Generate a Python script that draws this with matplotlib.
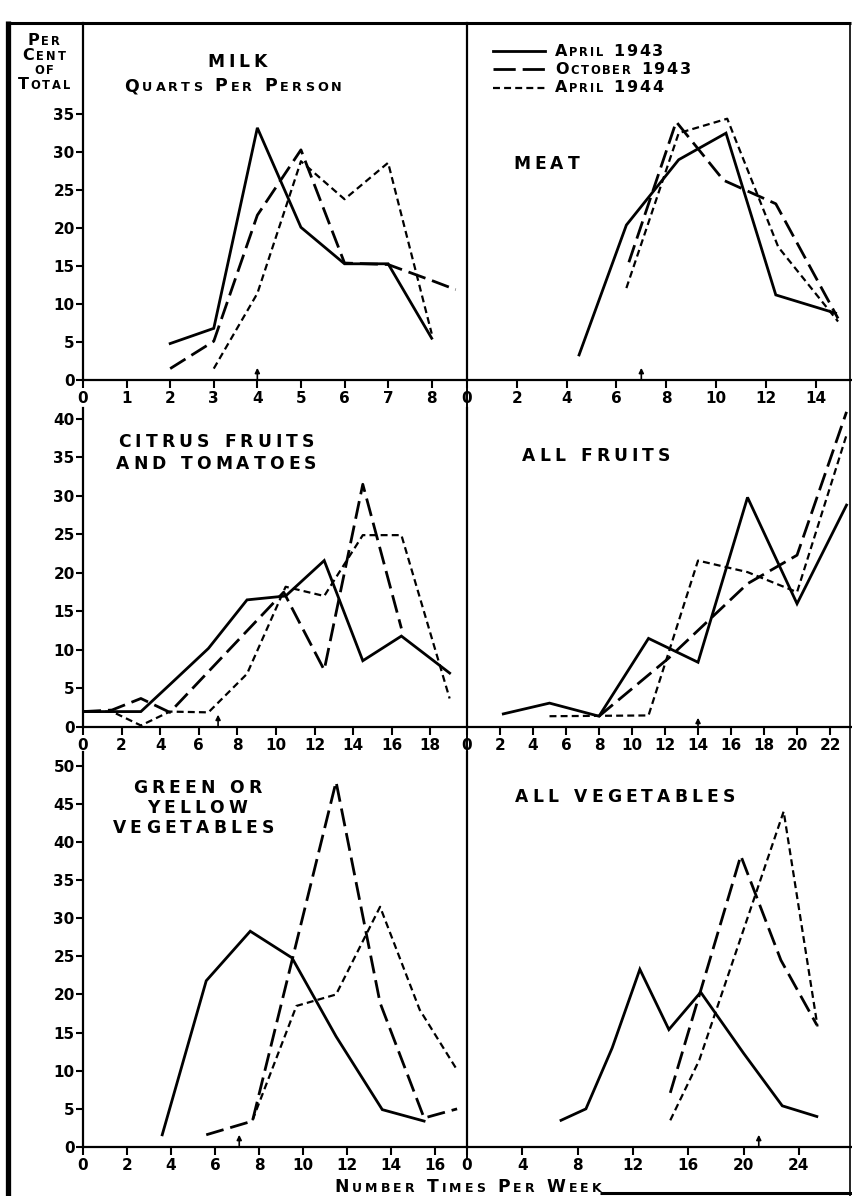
import matplotlib
matplotlib.use('Agg')
import matplotlib.pyplot as plt
from matplotlib.lines import Line2D
from matplotlib.textpath import TextToPath
from matplotlib.font_manager import FontProperties

# ---------------- data ----------------
series_names = ["April 1943", "October 1943", "April 1944"]

milk_x_apr43 = [2, 3, 4, 5, 6, 7, 8]
milk_apr43 = [4.8, 6.8, 33.2, 20.1, 15.3, 15.3, 5.5]
milk_x_oct43 = [2, 3, 4, 5, 6, 7, 8, 8.55]
milk_oct43 = [1.5, 5.1, 21.7, 30.3, 15.4, 15.2, 13.1, 11.9]
milk_x_apr44 = [3, 4, 5, 6, 7, 8]
milk_apr44 = [1.5, 11.4, 28.8, 23.8, 28.6, 6.1]

meat_x_apr43 = [4.5, 6.4, 8.5, 10.4, 12.4, 14.8]
meat_apr43 = [3.3, 20.4, 29.0, 32.5, 11.2, 8.8]
meat_x_oct43 = [6.5, 8.4, 10.3, 12.4, 14.9]
meat_oct43 = [15.5, 34.0, 26.3, 23.2, 8.1]
meat_x_apr44 = [6.4, 8.5, 10.45, 12.5, 14.9]
meat_apr44 = [12.1, 32.5, 34.4, 17.5, 7.7]

citrus_x_apr43 = [0, 1.5, 3, 4.5, 6.5, 8.5, 10.5, 12.5, 14.5, 16.5, 19]
citrus_apr43 = [2, 2, 2, 5.5, 10.2, 16.5, 17, 21.6, 8.6, 11.8, 7]
citrus_x_oct43 = [0, 1.5, 3, 4.5, 10.4, 12.5, 14.5, 16.5]
citrus_oct43 = [2, 2.2, 3.7, 1.9, 17.5, 7.4, 31.5, 12.8]
citrus_x_apr44 = [0, 1.5, 3, 4.5, 6.5, 8.5, 10.5, 12.5, 14.5, 16.5, 19]
citrus_apr44 = [2, 2, 0.2, 2, 1.9, 6.9, 18.2, 17, 24.9, 24.9, 3.7]

fruits_x_apr43 = [2.2, 5, 8, 11, 14, 17, 20, 23]
fruits_apr43 = [1.7, 3.1, 1.4, 11.5, 8.4, 29.8, 16.0, 28.8]
fruits_x_oct43 = [8, 12.2, 17, 20, 23]
fruits_oct43 = [1.4, 8.9, 18.6, 22.3, 40.9]
fruits_x_apr44 = [5, 11, 14, 17, 20, 23]
fruits_apr44 = [1.4, 1.5, 21.6, 20.1, 17.5, 37.9]

green_x_apr43 = [3.6, 5.6, 7.6, 9.5, 11.5, 13.6, 15.5]
green_apr43 = [1.6, 21.8, 28.3, 24.8, 14.5, 4.9, 3.4]
green_x_oct43 = [5.6, 7.7, 11.5, 13.5, 15.5, 17]
green_oct43 = [1.6, 3.4, 47.9, 18.9, 3.8, 5.0]
green_x_apr44 = [7.7, 9.7, 11.5, 13.5, 15.3, 17]
green_apr44 = [3.5, 18.5, 20, 31.5, 18, 10.1]

veg_x_apr43 = [6.8, 8.6, 10.5, 12.5, 14.6, 16.9, 20, 22.8, 25.3]
veg_apr43 = [3.5, 5.0, 13, 23.3, 15.4, 20.3, 12.3, 5.4, 4.0]
veg_x_oct43 = [14.7, 19.8, 22.7, 25.3]
veg_oct43 = [7.1, 38.2, 24.5, 16]
veg_x_apr44 = [14.7, 16.8, 22.9, 25.35]
veg_apr44 = [3.5, 11.4, 44, 15.8]

milk_xticks = [0, 1, 2, 3, 4, 5, 6, 7, 8]
milk_yticks = [0, 5, 10, 15, 20, 25, 30, 35]
meat_xticks = [0, 2, 4, 6, 8, 10, 12, 14]
citrus_xticks = [0, 2, 4, 6, 8, 10, 12, 14, 16, 18]
citrus_yticks = [0, 5, 10, 15, 20, 25, 30, 35, 40]
fruits_xticks = [0, 2, 4, 6, 8, 10, 12, 14, 16, 18, 20, 22]
green_xticks = [0, 2, 4, 6, 8, 10, 12, 14, 16]
green_yticks = [0, 5, 10, 15, 20, 25, 30, 35, 40, 45, 50]
veg_xticks = [0, 4, 8, 12, 16, 20, 24]

arrow_milk, arrow_meat, arrow_citrus = 4, 7, 7
arrow_fruits, arrow_green, arrow_veg = 14, 7.1, 21.1

# ---------------- setup ----------------
W, H = 852, 1196
DPI = 100
FONT = 'DejaVu Sans'
plt.rcParams['lines.scale_dashes'] = False
plt.rcParams['font.family'] = [FONT]
plt.rcParams['font.weight'] = 'bold'

fig = plt.figure(figsize=(W / DPI, H / DPI), dpi=DPI)
fig.patch.set_facecolor('white')

_t2p = TextToPath()
PX = DPI / 72.0


def _w(ch, size):
    if ch == ' ':
        return 0.38 * size * PX
    fp = FontProperties(family=FONT, weight='bold', size=size)
    w, h, d = _t2p.get_text_width_height_descent(ch, fp, ismath=False)
    return w * PX


def letters(x, y, s, big=11.5, small=8.3, ha='center', track=2.5):
    items = []
    for c in s:
        if c == ' ':
            items.append((' ', big))
        elif c.islower():
            items.append((c.upper(), small))
        else:
            items.append((c, big))
    widths = [_w(c, sz) for c, sz in items]
    total = sum(widths) + track * (len(items) - 1)
    if ha == 'center':
        x0 = x - total / 2
    elif ha == 'right':
        x0 = x - total
    else:
        x0 = x
    for (c, sz), w in zip(items, widths):
        if c != ' ':
            fig.text(x0 / W, 1 - y / H, c, fontsize=sz, fontweight='bold',
                     family=FONT, ha='left', va='baseline')
        x0 += w + track


def title(x, y, s):
    letters(x, y, s, big=12.3, track=4.2)


def make_ax(l, r, t, b, xlim, ylim, xticks, yticks=None):
    ax = fig.add_axes([l / W, 1 - b / H, (r - l) / W, (b - t) / H])
    ax.set_xlim(*xlim)
    ax.set_ylim(*ylim)
    ax.patch.set_alpha(0)
    for s in ['top', 'right']:
        ax.spines[s].set_visible(False)
    ax.spines['left'].set_linewidth(1.6)
    ax.spines['bottom'].set_linewidth(1.6)
    ax.set_xticks(xticks)
    ax.tick_params(axis='x', direction='out', length=6, width=1.5,
                   labelsize=11, pad=2)
    if yticks is None:
        ax.set_yticks([])
    else:
        ax.set_yticks(yticks)
        ax.tick_params(axis='y', direction='out', length=5, width=1.5,
                       labelsize=11, pad=1)
    return ax


def draw(ax, xs, ys, arrow_x, arrow_len):
    x1, x2, x3 = xs
    y1, y2, y3 = ys
    ax.plot(x1, y1, color='black', lw=2.0, solid_joinstyle='miter')
    l2, = ax.plot(x2, y2, color='black', lw=2.0)
    l2.set_dashes((13, 5))
    l3, = ax.plot(x3, y3, color='black', lw=1.6)
    l3.set_dashes((5, 3))
    ax.annotate('', xy=(arrow_x, arrow_len), xytext=(arrow_x, 0),
                arrowprops=dict(arrowstyle='-|>', lw=1.2, color='black',
                                mutation_scale=7, shrinkA=0, shrinkB=0))


# ---------------- panels ----------------
ax_milk = make_ax(83, 467, 23, 380, (0, 8.81), (0, 47.0), milk_xticks, milk_yticks)
draw(ax_milk, (milk_x_apr43, milk_x_oct43, milk_x_apr44),
     (milk_apr43, milk_oct43, milk_apr44), arrow_milk, 1.6)

ax_meat = make_ax(467, 851, 23, 380, (0, 15.42), (0, 47.0), meat_xticks)
draw(ax_meat, (meat_x_apr43, meat_x_oct43, meat_x_apr44),
     (meat_apr43, meat_oct43, meat_apr44), arrow_meat, 1.6)

ax_cit = make_ax(83, 467, 408, 727, (0, 19.9), (0, 41.4), citrus_xticks, citrus_yticks)
draw(ax_cit, (citrus_x_apr43, citrus_x_oct43, citrus_x_apr44),
     (citrus_apr43, citrus_oct43, citrus_apr44), arrow_citrus, 1.6)

ax_fru = make_ax(467, 851, 408, 727, (0, 23.27), (0, 41.4), fruits_xticks)
draw(ax_fru, (fruits_x_apr43, fruits_x_oct43, fruits_x_apr44),
     (fruits_apr43, fruits_oct43, fruits_apr44), arrow_fruits, 1.2)

ax_grn = make_ax(83, 467, 752, 1147, (0, 17.45), (0, 51.8), green_xticks, green_yticks)
draw(ax_grn, (green_x_apr43, green_x_oct43, green_x_apr44),
     (green_apr43, green_oct43, green_apr44), arrow_green, 1.6)

ax_veg = make_ax(467, 851, 752, 1147, (0, 27.77), (0, 51.8), veg_xticks)
draw(ax_veg, (veg_x_apr43, veg_x_oct43, veg_x_apr44),
     (veg_apr43, veg_oct43, veg_apr44), arrow_veg, 1.6)

# ---------------- frame ----------------
def fline(xs, ys, lw):
    fig.add_artist(Line2D([x / W for x in xs], [1 - y / H for y in ys],
                          transform=fig.transFigure, color='black', lw=lw,
                          solid_capstyle='butt'))

fline([8, 8], [21, 1196], 3.8)
fline([6, 851], [23, 23], 2.2)
fline([850, 850], [23, 1196], 1.2)
fline([467, 467], [23, 1160], 1.4)
fline([600, 852], [1193, 1193], 2.2)

# ---------------- legend ----------------
leg_y = [51, 69, 88]
legend_styles = [(None, 2.0), ((16, 5), 2.0), ((5, 3), 1.6)]
for yy, (dash, lw), name in zip(leg_y, legend_styles, series_names):
    ln = Line2D([493 / W, 545 / W], [1 - yy / H, 1 - yy / H],
                transform=fig.transFigure, color='black', lw=lw)
    if dash is not None:
        ln.set_dashes(dash)
    fig.add_artist(ln)
    letters(555, yy + 4.5, name, ha='left', track=1.8)

# ---------------- text ----------------
letters(44, 45, "Per", track=1.8)
letters(44, 60, "Cent", track=1.8)
letters(44, 74, "of", track=1.8)
letters(44, 89, "Total", track=1.8)

title(237, 67, "MILK")
letters(233, 91, "Quarts Per Person", big=12.5, small=9.2, track=3.0)
title(546, 169, "MEAT")
title(216, 447, "CITRUS FRUITS")
title(216, 469, "AND TOMATOES")
title(596, 461, "ALL FRUITS")
title(197, 793, "GREEN OR")
title(197, 813, "YELLOW")
title(193, 833, "VEGETABLES")
title(625, 802, "ALL VEGETABLES")
letters(468, 1192, "Number Times Per Week", big=12.3, small=9.0, track=3.0)

fig.savefig('out.png', dpi=DPI, facecolor='white')
